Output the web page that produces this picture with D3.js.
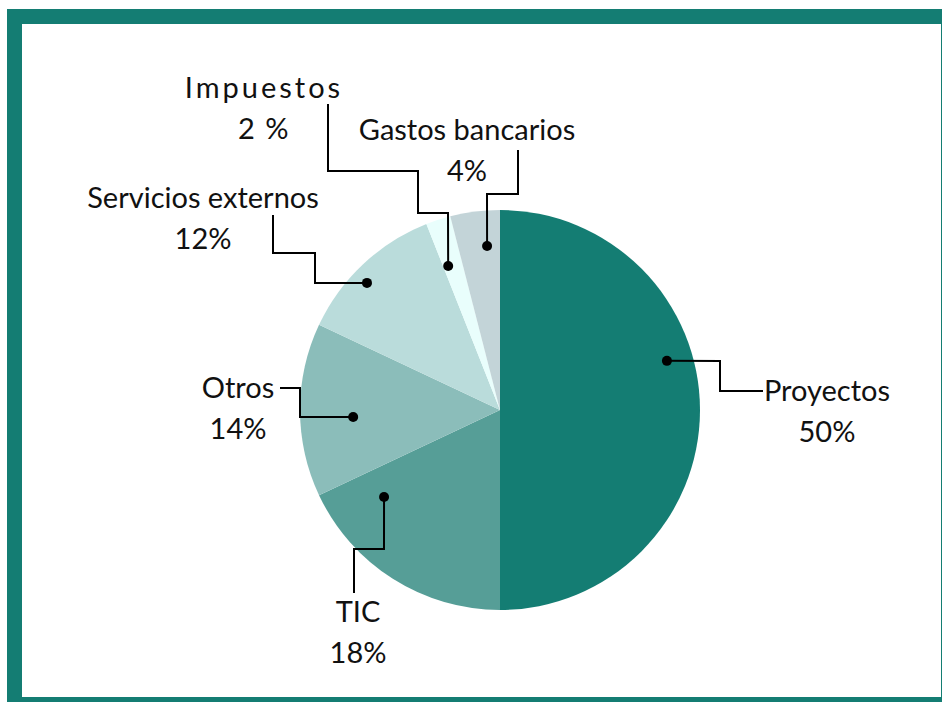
<!DOCTYPE html>
<html>
<head>
<meta charset="utf-8">
<script src="https://cdn.jsdelivr.net/npm/d3@7"></script>
<style>
  html, body { margin: 0; padding: 0; background: #fff; }
  svg { display: block; font-family: Lato, "Noto Sans", sans-serif; }
</style>
</head>
<body>
<div id="chart"></div>
<script>
// Gasto por partida (porcentaje del total)
const categories = ['Proyectos', 'TIC', 'Otros', 'Servicios externos', 'Impuestos', 'Gastos bancarios'];
const values = [50, 18, 14, 12, 2, 4];
const pctLabels = ['50%', '18%', '14%', '12%', '2 %', '4%'];
const colors = ['#147d73', '#569e97', '#8bbdba', '#badcdb', '#e9fefc', '#c3d4d8'];

// leader layout: anchor in polar coords (deg, px) and elbow points relative to pie centre
const leaders = [
  { a: 73.6, r: 174, pts: [[220, -49], [220, -19], [263, -19]], lx: 327, ly: -9 },
  { a: 233.1, r: 145, pts: [[-116, 139], [-146, 139], [-146, 183]], lx: -142, ly: 212 },
  { a: 267.3, r: 147, pts: [[-200, 7], [-200, -22], [-220, -22]], lx: -262, ly: -12 },
  { a: 313.7, r: 184, pts: [[-185, -127], [-185, -157], [-227, -157], [-227, -195]], lx: -297, ly: -202 },
  { a: 340.2, r: 153, pts: [[-52, -197], [-82, -197], [-82, -239], [-172, -239], [-172, -306]], lx: -236, ly: -312, spaced: true },
  { a: 355.5, r: 164.5, pts: [[-13, -216], [18, -216], [18, -260]], lx: -33, ly: -270 }
];

const W = 942, H = 702;
const cx = 500, cy = 410, R = 200;

const svg = d3.select('#chart').append('svg')
  .attr('width', W)
  .attr('height', H);

// frame
svg.append('rect').attr('x', 7).attr('y', 9).attr('width', W - 7).attr('height', H - 9).attr('fill', '#147d73');
svg.append('rect').attr('x', 22).attr('y', 24).attr('width', 919).attr('height', 673).attr('fill', '#fff');

const g = svg.append('g').attr('transform', `translate(${cx},${cy})`);

const pie = d3.pie().sort(null).value(d => d);
const arcs = pie(values);
const arc = d3.arc().innerRadius(0).outerRadius(R);

g.selectAll('path.slice')
  .data(arcs)
  .enter().append('path')
  .attr('class', 'slice')
  .attr('d', arc)
  .attr('fill', (d, i) => colors[i]);

const line = d3.line();

leaders.forEach((l, i) => {
  const p0 = d3.pointRadial(l.a * Math.PI / 180, l.r);
  g.append('path')
    .attr('d', line([p0, ...l.pts]))
    .attr('fill', 'none')
    .attr('stroke', '#000')
    .attr('stroke-width', 2);
  g.append('circle')
    .attr('cx', p0[0]).attr('cy', p0[1])
    .attr('r', 5)
    .attr('fill', '#000');

  g.append('text')
    .attr('x', l.lx).attr('y', l.ly)
    .attr('text-anchor', 'middle')
    .style('font-size', '29px')
    .style('letter-spacing', l.spaced ? '3px' : null)
    .attr('fill', '#111')
    .text(categories[i]);
  g.append('text')
    .attr('x', l.lx).attr('y', l.ly + 41)
    .attr('text-anchor', 'middle')
    .style('font-size', '29px')
    .style('letter-spacing', l.spaced ? '1.5px' : null)
    .attr('fill', '#111')
    .text(pctLabels[i]);
});
</script>
</body>
</html>
